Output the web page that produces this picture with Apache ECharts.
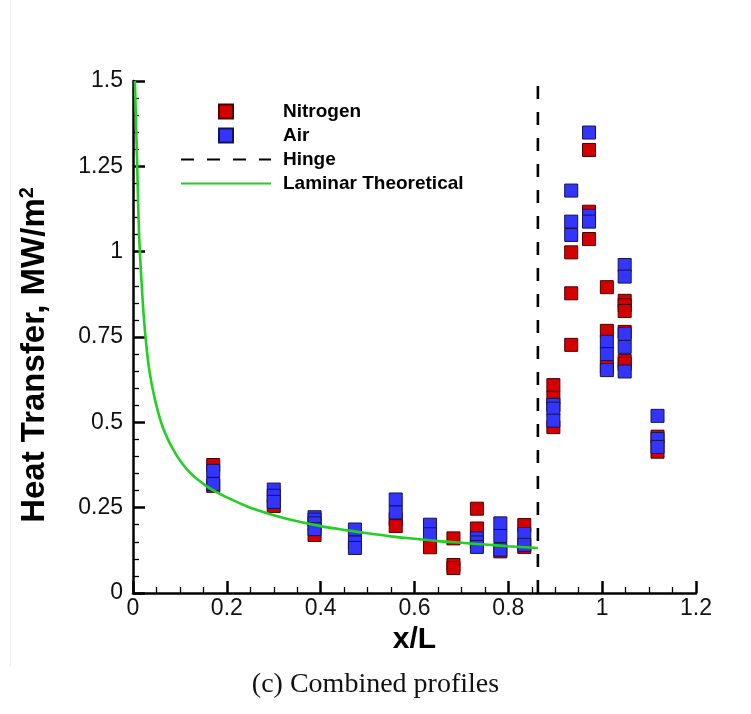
<!DOCTYPE html>
<html><head><meta charset="utf-8">
<script src="https://cdn.jsdelivr.net/npm/echarts@6/dist/echarts.min.js"></script>
<style>html,body{margin:0;padding:0;background:#fff}#c{width:751px;height:714px}</style>
</head><body><div id="c"></div>
<script>
// ---- data ----
const xTicks = ['0', '0.2', '0.4', '0.6', '0.8', '1', '1.2'];
const yTicks = ['0', '0.25', '0.5', '0.75', '1', '1.25', '1.5'];

const nitrogenX = [0.171, 0.171, 0.30, 0.387, 0.56, 0.56, 0.633, 0.683, 0.683, 0.683, 0.733, 0.733, 0.783, 0.834, 0.834,
  0.896, 0.896, 0.896, 0.934, 0.934, 0.934, 0.972, 0.972, 0.972, 1.01, 1.01, 1.01,
  1.048, 1.048, 1.048, 1.048, 1.048, 1.048, 1.118, 1.118];
const nitrogenY = [0.375, 0.314, 0.255, 0.170, 0.216, 0.196, 0.134, 0.160, 0.082, 0.073, 0.247, 0.189, 0.122, 0.199, 0.135,
  0.609, 0.572, 0.486, 0.998, 0.878, 0.727, 1.298, 1.117, 1.037, 0.896, 0.768, 0.663,
  0.856, 0.843, 0.826, 0.765, 0.680, 0.671, 0.458, 0.414];

const airX = [0.171, 0.171, 0.30, 0.30, 0.30, 0.387, 0.387, 0.387, 0.387, 0.473, 0.473, 0.473, 0.56, 0.56, 0.633, 0.633,
  0.733, 0.733, 0.733, 0.783, 0.783, 0.783, 0.834, 0.834, 0.896, 0.896, 0.896, 0.934, 0.934, 0.934,
  0.972, 0.972, 0.972, 1.01, 1.01, 1.01, 1.048, 1.048, 1.048, 1.048, 1.048, 1.118, 1.118, 1.118];
const airY = [0.358, 0.319, 0.303, 0.285, 0.267, 0.222, 0.215, 0.204, 0.187, 0.186, 0.148, 0.132, 0.274, 0.236, 0.200, 0.172,
  0.160, 0.148, 0.135, 0.204, 0.167, 0.127, 0.173, 0.141, 0.551, 0.540, 0.505, 1.179, 1.088, 1.049,
  1.349, 1.105, 1.088, 0.736, 0.700, 0.653, 0.961, 0.927, 0.759, 0.721, 0.649, 0.519, 0.451, 0.428];

const laminarX = [0.004, 0.009, 0.013, 0.02, 0.026, 0.035, 0.048, 0.065, 0.09, 0.12, 0.16, 0.2, 0.25, 0.3, 0.35, 0.4,
  0.45, 0.5, 0.55, 0.6, 0.65, 0.7, 0.75, 0.8, 0.863];
const laminarY = [1.5, 1.25, 1.05, 0.87, 0.76, 0.65, 0.56, 0.48, 0.41, 0.355, 0.31, 0.28, 0.25, 0.228, 0.21, 0.196,
  0.185, 0.175, 0.166, 0.159, 0.152, 0.147, 0.142, 0.137, 0.132];

const hingeX = [0.863, 0.863];
const hingeY = [0, 1.5];

const seriesNames = ['Nitrogen', 'Air', 'Hinge', 'Laminar Theoretical'];

// ---- build chart ----
const zip = (a, b) => a.map((v, i) => [v, b[i]]);
const chart = echarts.init(document.getElementById('c'), null, {renderer: 'canvas'});
const labelFont = "'Liberation Sans Narrow', 'Arial Narrow', 'Liberation Sans', Arial, sans-serif";
const boldFont = "'Liberation Sans', Arial, Helvetica, sans-serif";
const hidden = {color: 'rgba(0,0,0,0)', borderColor: 'rgba(0,0,0,0)', borderWidth: 0, opacity: 0};

chart.setOption({
  backgroundColor: '#fff',
  animation: false,
  grid: {left: 133, right: 55, top: 81, bottom: 121, containLabel: false, outerBoundsMode: 'none'},
  legend: {
    orient: 'vertical', left: 175, top: 97, itemWidth: 90, itemHeight: 14, itemGap: 5,
    symbolKeepAspect: true,
    data: [
      {name: seriesNames[0], icon: 'path://M0 0H10V10H0Z'},
      {name: seriesNames[1], icon: 'path://M0 0H10V10H0Z'},
      {name: seriesNames[2], itemStyle: hidden},
      {name: seriesNames[3], itemStyle: hidden}
    ],
    textStyle: {fontFamily: boldFont, fontWeight: 'bold', fontSize: 19, color: '#000', padding: [0, 0, 0, 7]},
    selectedMode: false
  },
  xAxis: {
    type: 'value', min: 0, max: 1.2, interval: 0.2,
    name: 'x/L', nameLocation: 'middle', nameGap: 28,
    nameTextStyle: {fontFamily: boldFont, fontWeight: 'bold', fontSize: 30, color: '#000'},
    axisLine: {show: true, onZero: false, lineStyle: {color: '#000', width: 2.5}},
    axisTick: {show: true, inside: true, length: 12, lineStyle: {color: '#000', width: 2.5}},
    minorTick: {show: true, splitNumber: 4, length: 6, lineStyle: {color: '#000', width: 1.3}},
    splitLine: {show: false},
    axisLabel: {margin: 4, fontFamily: labelFont, fontSize: 23, color: '#111',
      formatter: v => xTicks[Math.round(v / 0.2)]}
  },
  yAxis: {
    type: 'value', min: 0, max: 1.5, interval: 0.25,
    name: 'Heat Transfer, MW/m{sup|2}', nameLocation: 'middle', nameGap: 80, nameRotate: 90,
    nameTextStyle: {fontFamily: boldFont, fontWeight: 'bold', fontSize: 33, color: '#000',
      padding: [0, 36, 0, 0],
      rich: {sup: {fontFamily: boldFont, fontWeight: 'bold', fontSize: 20, color: '#000', verticalAlign: 'top', padding: [0, 0, 16, 0]}}},
    axisLine: {show: true, onZero: false, lineStyle: {color: '#000', width: 2.5}},
    axisTick: {show: true, inside: true, length: 12, lineStyle: {color: '#000', width: 2.5}},
    minorTick: {show: true, splitNumber: 5, length: 6, lineStyle: {color: '#000', width: 1.3}},
    splitLine: {show: false},
    axisLabel: {margin: 10, fontFamily: labelFont, fontSize: 23, color: '#111',
      formatter: v => yTicks[Math.round(v / 0.25)]}
  },
  series: [
    {
      name: seriesNames[0], type: 'scatter', symbol: 'rect', symbolSize: 13, z: 2,
      itemStyle: {color: '#d40000', borderColor: '#4a0000', borderWidth: 1, opacity: 1},
      data: zip(nitrogenX, nitrogenY)
    },
    {
      name: seriesNames[1], type: 'scatter', symbol: 'rect', symbolSize: 13, z: 3,
      itemStyle: {color: '#3434ff', borderColor: '#141450', borderWidth: 1, opacity: 1},
      data: zip(airX, airY)
    },
    {
      name: seriesNames[2], type: 'line', symbol: 'none', z: 4,
      lineStyle: {color: '#000', width: 2.6, type: [13, 13]},
      itemStyle: {color: 'rgba(0,0,0,0)'},
      data: zip(hingeX, hingeY)
    },
    {
      name: seriesNames[3], type: 'line', symbol: 'none', smooth: 0.3, z: 5,
      lineStyle: {color: '#22cf22', width: 2.6},
      itemStyle: {color: 'rgba(0,0,0,0)'},
      data: zip(laminarX, laminarY)
    }
  ],
  graphic: [
    {type: 'line', shape: {x1: 10.5, y1: 0, x2: 10.5, y2: 666}, style: {stroke: '#eeeeee', lineWidth: 1}, silent: true},
    {type: 'text', left: 'center', top: 671,
      style: {text: '(c) Combined profiles', fontFamily: "'Liberation Serif', 'DejaVu Serif', serif", fontSize: 28, fill: '#111'}}
  ]
});
</script>
</body></html>
